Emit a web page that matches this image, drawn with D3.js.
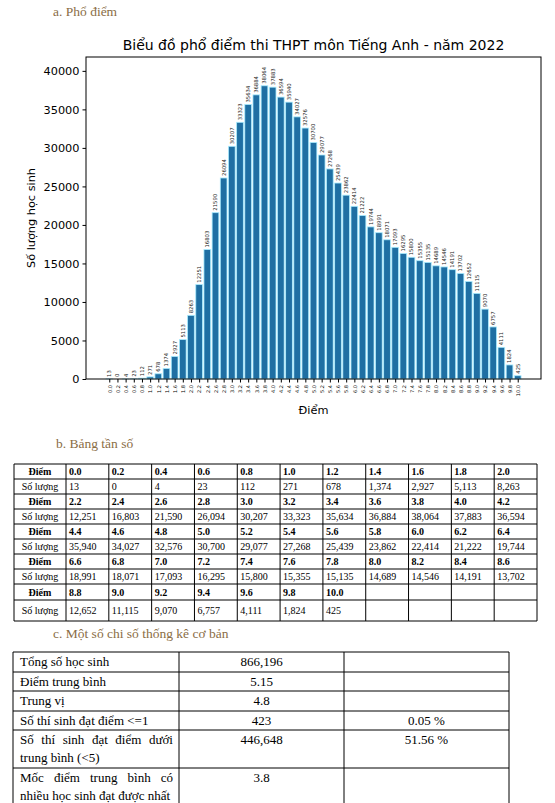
<!DOCTYPE html>
<html>
<head>
<meta charset="utf-8">
<script src="https://cdn.jsdelivr.net/npm/d3@7"></script>
<style>
  body { margin: 0; background: #fff; }
  svg { display: block; }
</style>
</head>
<body>
<svg id="page" width="555" height="803"></svg>
<script>
// score values and number of students (from the frequency table)
const scores = ["0.0","0.2","0.4","0.6","0.8","1.0","1.2","1.4","1.6","1.8","2.0",
  "2.2","2.4","2.6","2.8","3.0","3.2","3.4","3.6","3.8","4.0","4.2",
  "4.4","4.6","4.8","5.0","5.2","5.4","5.6","5.8","6.0","6.2","6.4",
  "6.6","6.8","7.0","7.2","7.4","7.6","7.8","8.0","8.2","8.4","8.6",
  "8.8","9.0","9.2","9.4","9.6","9.8","10.0"];
const counts = [13,0,4,23,112,271,678,1374,2927,5113,8263,
  12251,16803,21590,26094,30207,33323,35634,36884,38064,37883,36594,
  35940,34027,32576,30700,29077,27268,25439,23862,22414,21222,19744,
  18991,18071,17093,16295,15800,15355,15135,14689,14546,14191,13702,
  12652,11115,9070,6757,4111,1824,425];
const yTicks = [0,5000,10000,15000,20000,25000,30000,35000,40000];

const chartTitle = "Biểu đồ phổ điểm thi THPT môn Tiếng Anh - năm 2022";
const headings = ["a. Phổ điểm", "b. Bảng tần số", "c. Một số chi số thống kê cơ bản"];

// stats table: label lines, value, percent
const statLabels = [["Tổng số học sinh"], ["Điểm trung bình"], ["Trung vị"],
  ["Số thí sinh đạt điểm <=1"], ["Số thí sinh đạt điểm dưới", "trung bình (<5)"],
  ["Mốc điểm trung bình có", "nhiều học sinh đạt được nhất"]];
const statValues = ["866,196", "5.15", "4.8", "423", "446,648", "3.8"];
const statPercents = ["", "", "", "0.05 %", "51.56 %", ""];

const svg = d3.select("#page");
const serif = "'Liberation Serif', 'Times New Roman', serif";
const sans = "'DejaVu Sans', sans-serif";
const headColor = "#8a6d45";

// section headings
const headPos = [[53, 16], [56, 448], [53, 638]];
svg.selectAll("text.head")
  .data(headings)
  .enter().append("text")
  .attr("class", "head")
  .attr("x", (d, i) => headPos[i][0])
  .attr("y", (d, i) => headPos[i][1])
  .attr("font-family", serif)
  .attr("font-size", 13.5)
  .attr("fill", headColor)
  .text(d => d);

// ---- bar chart ----
const plot = { left: 86, right: 541, top: 57, bottom: 379 };

const x = d3.scaleLinear()
  .domain([-2.85, scores.length - 1 + 2.85])
  .range([plot.left, plot.right]);
const y = d3.scaleLinear()
  .domain([0, 41800])
  .range([plot.bottom, plot.top]);
const bw = x(0.82) - x(0);

const chart = svg.append("g");

chart.selectAll("rect.bar")
  .data(counts)
  .enter().append("rect")
  .attr("class", "bar")
  .attr("x", (d, i) => x(i) - bw / 2)
  .attr("width", bw)
  .attr("y", d => y(d))
  .attr("height", d => y(0) - y(d))
  .attr("fill", "#1f6fa3")
  .attr("stroke", "#a8ecff")
  .attr("stroke-width", 0.8);

// value labels above bars
chart.selectAll("text.val")
  .data(counts)
  .enter().append("text")
  .attr("class", "val")
  .attr("transform", (d, i) => `translate(${x(i) + 1.9},${y(d) - 2}) rotate(-90)`)
  .attr("font-family", sans)
  .attr("font-size", 5.3)
  .attr("fill", "#222")
  .text(d => d);

// frame
chart.append("rect")
  .attr("x", plot.left).attr("y", plot.top)
  .attr("width", plot.right - plot.left)
  .attr("height", plot.bottom - plot.top)
  .attr("fill", "none")
  .attr("stroke", "#000")
  .attr("stroke-width", 1);

// y axis
const yAxis = chart.append("g")
  .attr("transform", `translate(${plot.left},0)`)
  .call(d3.axisLeft(y).tickValues(yTicks).tickSize(3.5).tickPadding(3).tickFormat(d3.format("d")));
yAxis.select(".domain").remove();
yAxis.selectAll("text").attr("font-family", sans).attr("font-size", 11.3).attr("fill", "#000");

// x axis
const xAxis = chart.append("g")
  .attr("transform", `translate(0,${plot.bottom})`)
  .call(d3.axisBottom(x).tickValues(d3.range(scores.length)).tickSize(3.5).tickFormat(i => scores[i]));
xAxis.select(".domain").remove();
xAxis.selectAll("text")
  .attr("font-family", sans)
  .attr("font-size", 5)
  .attr("fill", "#000")
  .attr("dy", null)
  .attr("y", 0)
  .attr("text-anchor", "end")
  .attr("transform", "translate(1.8,6) rotate(-90)");

// title and axis labels
chart.append("text")
  .attr("x", (plot.left + plot.right) / 2)
  .attr("y", 50)
  .attr("text-anchor", "middle")
  .attr("font-family", sans)
  .attr("font-size", 14)
  .text(chartTitle);
chart.append("text")
  .attr("x", (plot.left + plot.right) / 2)
  .attr("y", 414)
  .attr("text-anchor", "middle")
  .attr("font-family", sans)
  .attr("font-size", 11.3)
  .text("Điểm");
chart.append("text")
  .attr("transform", `translate(35,218) rotate(-90)`)
  .attr("text-anchor", "middle")
  .attr("font-family", sans)
  .attr("font-size", 11.3)
  .text("Số lượng học sinh");

// ---- frequency table ----
const perRow = 11;
const freqRows = d3.range(Math.ceil(scores.length / perRow)).map(g => d3.range(perRow).map(k => g * perRow + k));
const rowH = [15, 15, 15, 15, 15, 15, 15, 15, 16, 21];
const rowY = [464];
rowH.forEach((h, i) => rowY.push(rowY[i] + h));
const colX = [14, 66];
for (let k = 1; k <= perRow; k++) colX.push(66 + k * (537 - 66) / perRow);

const ft = svg.append("g").attr("font-family", serif).attr("font-size", 10);

freqRows.forEach((idx, g) => {
  [0, 1].forEach(r => {
    const row = g * 2 + r;
    const y0 = rowY[row], y1 = rowY[row + 1];
    const base = (y0 + y1) / 2 + 3.5;
    ft.append("text")
      .attr("x", (colX[0] + colX[1]) / 2)
      .attr("y", base)
      .attr("text-anchor", "middle")
      .attr("font-weight", r === 0 ? "bold" : null)
      .text(r === 0 ? "Điểm" : "Số lượng");
    ft.selectAll(null)
      .data(idx.filter(i => i < scores.length))
      .enter().append("text")
      .attr("x", (i, k) => colX[k + 1] + 3)
      .attr("y", base)
      .attr("font-weight", r === 0 ? "bold" : null)
      .text(i => r === 0 ? scores[i] : d3.format(",")(counts[i]));
  });
});
// grid lines
ft.selectAll("line.h")
  .data(rowY)
  .enter().append("line")
  .attr("x1", colX[0]).attr("x2", colX[colX.length - 1])
  .attr("y1", d => d).attr("y2", d => d)
  .attr("stroke", "#000").attr("stroke-width", 1);
ft.selectAll("line.v")
  .data(colX)
  .enter().append("line")
  .attr("x1", d => d).attr("x2", d => d)
  .attr("y1", rowY[0]).attr("y2", rowY[rowY.length - 1])
  .attr("stroke", "#000").attr("stroke-width", 1);

// ---- stats table ----
const sCol = [13, 179, 344, 509];
const sRowY = [652, 672, 691, 711, 730, 768, 808];
const st = svg.append("g").attr("font-family", serif).attr("font-size", 13);

statLabels.forEach((lines, i) => {
  const top = sRowY[i];
  lines.forEach((line, j) => {
    const by = top + 14 + j * 18;
    if (j < lines.length - 1) {
      // justified line: spread words across the cell
      const words = line.split(" ");
      const nodes = words.map(w => st.append("text").attr("y", by).text(w));
      const widths = nodes.map(n => n.node().getComputedTextLength());
      const left = sCol[0] + 7, right = sCol[1] - 6;
      const gap = (right - left - d3.sum(widths)) / (words.length - 1);
      let cx = left;
      nodes.forEach((n, k) => { n.attr("x", cx); cx += widths[k] + gap; });
    } else {
      st.append("text").attr("x", sCol[0] + 7).attr("y", by).text(line);
    }
  });
  st.append("text")
    .attr("x", (sCol[1] + sCol[2]) / 2)
    .attr("y", top + 14)
    .attr("text-anchor", "middle")
    .text(statValues[i]);
  st.append("text")
    .attr("x", (sCol[2] + sCol[3]) / 2)
    .attr("y", top + 14)
    .attr("text-anchor", "middle")
    .text(statPercents[i]);
});
st.selectAll("line.h")
  .data(sRowY)
  .enter().append("line")
  .attr("x1", sCol[0]).attr("x2", sCol[3])
  .attr("y1", d => d).attr("y2", d => d)
  .attr("stroke", "#000").attr("stroke-width", 1);
st.selectAll("line.v")
  .data(sCol)
  .enter().append("line")
  .attr("x1", d => d).attr("x2", d => d)
  .attr("y1", sRowY[0]).attr("y2", sRowY[sRowY.length - 1])
  .attr("stroke", "#000").attr("stroke-width", 1);
</script>
</body>
</html>
